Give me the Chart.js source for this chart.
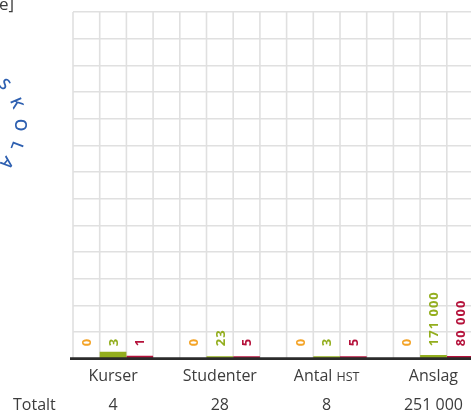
<!DOCTYPE html>
<html>
<head>
<meta charset="utf-8">
<script src="https://cdn.jsdelivr.net/npm/chart.js@4.4.0/dist/chart.umd.min.js"></script>
<style>
html, body { margin: 0; padding: 0; background: #fff; overflow: hidden; }
#wrap { width: 471px; height: 412px; overflow: hidden; }
</style>
</head>
<body>
<div id="wrap"><canvas id="chart" width="520" height="412"></canvas></div>
<script>
const categories = ['Kurser', 'Studenter', 'Antal HST', 'Anslag'];
const totals = ['4', '28', '8', '251 000'];
const orangeValues = [0, 0, 0, 0];
const greenValues = [3, 23, 3, 171000];
const redValues = [1, 5, 5, 80000];
// bar heights as drawn in the picture, in grid steps (bars are not to scale)
const orangeBars = [0, 0, 0, 0];
const greenBars = [0.26, 0.09, 0.09, 0.14];
const redBars = [0.11, 0.09, 0.09, 0.1];
const gridRows = 13;
const gridCols = 16;

const colors = ['#f4a428', '#93ae1e', '#b5123b'];
const textColor = '#3c3c3c';
const labelFont = '16px "Open Sans"';
const smallCapsFont = '12.5px "Open Sans"';

function fmt(v) {
    return String(v).replace(/\B(?=(\d{3})+(?!\d))/g, ' ');
}

// lodräta rutnätslinjer, en per stapelkolumn
const columnGrid = {
    id: 'columnGrid',
    beforeDatasetsDraw(chart) {
        const {ctx, chartArea: a} = chart;
        const step = (a.right - a.left) / gridCols;
        ctx.save();
        ctx.strokeStyle = '#e0e0e0';
        ctx.lineWidth = 1.6;
        ctx.beginPath();
        for (let i = 0; i <= gridCols; i++) {
            ctx.moveTo(a.left + i * step, a.top);
            ctx.lineTo(a.left + i * step, a.bottom);
        }
        ctx.stroke();
        ctx.restore();
    }
};

const annotations = {
    id: 'annotations',
    afterDraw(chart) {
        const ctx = chart.ctx;
        const base = chart.scales.y.getPixelForValue(0);

        // axellinjen, lite längre åt vänster än rutnätet
        ctx.save();
        ctx.strokeStyle = '#2b2b2b';
        ctx.lineWidth = 2.8;
        ctx.beginPath();
        ctx.moveTo(70, base);
        ctx.lineTo(chart.chartArea.right, base);
        ctx.stroke();
        ctx.restore();

        // värden, roterade över staplarna
        [orangeValues, greenValues, redValues].forEach((vals, i) => {
            const meta = chart.getDatasetMeta(i);
            meta.data.forEach((bar, j) => {
                ctx.save();
                ctx.translate(bar.x, base - 12.5);
                ctx.rotate(-Math.PI / 2);
                ctx.font = 'bold 13px "Open Sans"';
                ctx.letterSpacing = '1px';
                ctx.fillStyle = colors[i];
                ctx.textAlign = 'left';
                ctx.textBaseline = 'middle';
                ctx.fillText(fmt(vals[j]), 0, 1);
                ctx.restore();
            });
        });

        // kategorier och totaler under gruppens mitt
        const mid = chart.getDatasetMeta(1);
        ctx.save();
        ctx.fillStyle = textColor;
        ctx.textBaseline = 'alphabetic';
        categories.forEach((cat, j) => {
            const x = mid.data[j].x;
            if (cat.endsWith('HST')) {
                const head = cat.replace('HST', '');
                ctx.font = labelFont;
                const w1 = ctx.measureText(head).width;
                ctx.font = smallCapsFont;
                const w2 = ctx.measureText('HST').width;
                const x0 = x - (w1 + w2) / 2;
                ctx.textAlign = 'left';
                ctx.font = labelFont;
                ctx.fillText(head, x0, 381);
                ctx.font = smallCapsFont;
                ctx.fillText('HST', x0 + w1, 381);
            } else {
                ctx.font = labelFont;
                ctx.textAlign = 'center';
                ctx.fillText(cat, x, 381);
            }
            ctx.font = labelFont;
            ctx.textAlign = 'center';
            ctx.fillText(totals[j], x, 410);
        });
        ctx.textAlign = 'left';
        ctx.font = labelFont;
        ctx.fillText('Totalt', 13, 410);

        // rest av rubrik uppe till vänster
        ctx.font = '17px "Open Sans"';
        ctx.textAlign = 'right';
        ctx.fillText('e]', 14, 10);
        ctx.restore();

        // bokstäver längs en båge (logga)
        const letters = [['S', -44], ['K', -22], ['O', 0], ['L', 21], ['A', 40], ['.', 57]];
        ctx.save();
        ctx.fillStyle = '#2d5fb0';
        ctx.font = '600 16px "Open Sans"';
        ctx.textAlign = 'center';
        ctx.textBaseline = 'middle';
        letters.forEach(([ch, a]) => {
            const r = a * Math.PI / 180;
            const px = -38 + 58 * Math.cos(r);
            const py = 125 + 58 * Math.sin(r);
            ctx.save();
            ctx.translate(px, py);
            ctx.rotate(r + Math.PI / 2);
            ctx.fillText(ch, 0, 0);
            ctx.restore();
        });
        ctx.restore();
    }
};

let ctx = document.getElementById('chart').getContext('2d');
new Chart(ctx, {
    type: 'bar',
    data: {
        labels: categories,
        datasets: [
            { data: orangeBars, backgroundColor: colors[0] },
            { data: greenBars, backgroundColor: colors[1] },
            { data: redBars, backgroundColor: colors[2] },
            { data: [0, 0, 0, 0], backgroundColor: 'rgba(0,0,0,0)' }
        ]
    },
    options: {
        responsive: false,
        animation: false,
        devicePixelRatio: 1,
        barPercentage: 1,
        categoryPercentage: 1,
        inflateAmount: 0,
        layout: { padding: { left: 73, top: 12, right: 19.8, bottom: 53.3 } },
        plugins: { legend: { display: false }, tooltip: { enabled: false } },
        scales: {
            x: {
                ticks: { display: false },
                grid: { display: false, drawTicks: false },
                border: { display: false }
            },
            y: {
                min: 0,
                max: gridRows,
                ticks: { display: false, stepSize: 1 },
                grid: { color: '#e0e0e0', lineWidth: 1.6, drawTicks: false },
                border: { display: false }
            }
        }
    },
    plugins: [columnGrid, annotations]
});
</script>
</body>
</html>
